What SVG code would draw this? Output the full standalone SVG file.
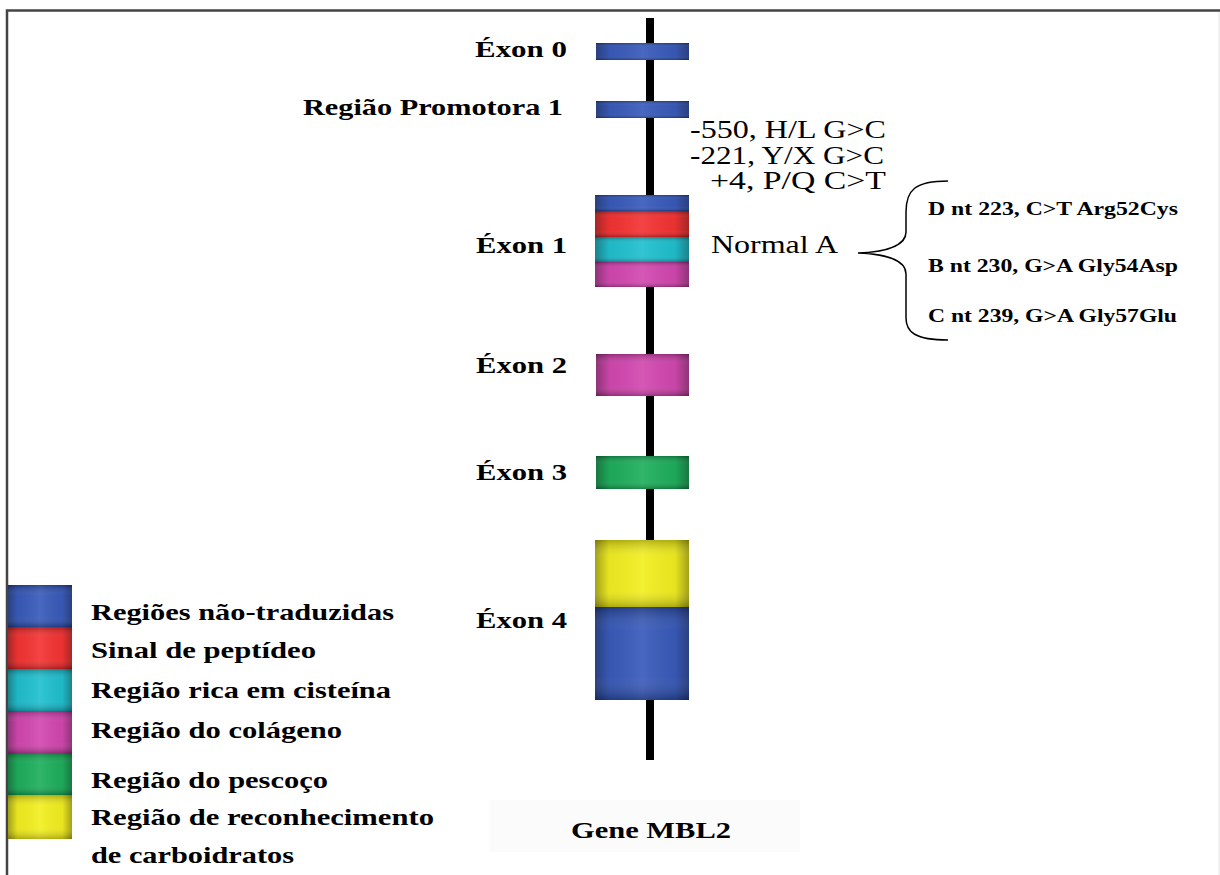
<svg xmlns="http://www.w3.org/2000/svg" width="1220" height="875" viewBox="0 0 1220 875">
<defs>
<linearGradient id="eh" x1="0" y1="0" x2="1" y2="0">
<stop offset="0" stop-color="#000" stop-opacity="0.35"/>
<stop offset="0.15" stop-color="#000" stop-opacity="0.05"/>
<stop offset="0.5" stop-color="#fff" stop-opacity="0.08"/>
<stop offset="0.85" stop-color="#000" stop-opacity="0.05"/>
<stop offset="1" stop-color="#000" stop-opacity="0.35"/>
</linearGradient>
<linearGradient id="ev" x1="0" y1="0" x2="0" y2="1">
<stop offset="0" stop-color="#000" stop-opacity="0.25"/>
<stop offset="0.25" stop-color="#fff" stop-opacity="0.06"/>
<stop offset="0.75" stop-color="#fff" stop-opacity="0.06"/>
<stop offset="1" stop-color="#000" stop-opacity="0.25"/>
</linearGradient>
<g id="shade"><rect width="1" height="1" fill="url(#eh)"/><rect width="1" height="1" fill="url(#ev)"/></g>
</defs>
<style>
.lbl{font-family:"Liberation Serif",serif;font-weight:bold;font-size:23px;fill:#000}
.mut{font-family:"Liberation Serif",serif;font-size:25px;fill:#000}
.sub{font-family:"Liberation Serif",serif;font-weight:bold;font-size:19px;fill:#000}
.leg{font-family:"Liberation Serif",serif;font-weight:bold;font-size:24px;fill:#000}
.blue{fill:#2c50b6}.red{fill:#f42626}.cyan{fill:#12bccc}.mag{fill:#d03cab}.green{fill:#10aa52}.yel{fill:#f2ee12}
</style>
<rect width="1220" height="875" fill="#fff"/>
<path d="M7,875 V10.5 H1220" fill="none" stroke="#444" stroke-width="2.5"/>
<line x1="1219" y1="12" x2="1219" y2="875" stroke="#e4e4e4" stroke-width="1"/>
<rect x="490" y="800" width="310" height="52" fill="#fbfbfb"/>

<g id="chromosome"><rect x="646" y="18" width="8" height="742" fill="#000"/></g>

<g id="exon0">
<rect class="blue" x="596" y="43" width="93" height="17"/><use href="#shade" transform="translate(596,43) scale(93,17)"/>
<text class="lbl" x="567" y="57" text-anchor="end" textLength="92" lengthAdjust="spacingAndGlyphs">Éxon 0</text>
</g>
<g id="promoter">
<rect class="blue" x="596" y="101" width="93" height="17"/><use href="#shade" transform="translate(596,101) scale(93,17)"/>
<text class="lbl" x="563" y="115" text-anchor="end" textLength="260" lengthAdjust="spacingAndGlyphs">Região Promotora 1</text>
<text class="mut" x="690" y="138" textLength="196" lengthAdjust="spacingAndGlyphs">-550, H/L  G&gt;C</text>
<text class="mut" x="690" y="164" textLength="194" lengthAdjust="spacingAndGlyphs">-221, Y/X  G&gt;C</text>
<text class="mut" x="710" y="189" textLength="176" lengthAdjust="spacingAndGlyphs">+4, P/Q  C&gt;T</text>
</g>
<g id="exon1">
<rect class="blue" x="595" y="195" width="94" height="16"/><use href="#shade" transform="translate(595,195) scale(94,16)"/>
<rect class="red" x="595" y="211" width="94" height="26"/><use href="#shade" transform="translate(595,211) scale(94,26)"/>
<rect class="cyan" x="595" y="237" width="94" height="25"/><use href="#shade" transform="translate(595,237) scale(94,25)"/>
<rect class="mag" x="595" y="262" width="94" height="25"/><use href="#shade" transform="translate(595,262) scale(94,25)"/>
<text class="lbl" x="567" y="253" text-anchor="end" textLength="91" lengthAdjust="spacingAndGlyphs">Éxon 1</text>
<text class="mut" x="711" y="253" font-size="24" textLength="127" lengthAdjust="spacingAndGlyphs">Normal A</text>
</g>
<g id="connectors">
<path d="M948,181 C915,181 906,190 906,212 V232 C906,246 885,252 858,253 C885,254 906,260 906,274 V318 C906,332 915,340 948,340" fill="none" stroke="#000" stroke-width="1.5"/>
</g>
<g id="variants">
<text class="sub" x="928" y="215" textLength="250" lengthAdjust="spacingAndGlyphs">D nt 223, C&gt;T Arg52Cys</text>
<text class="sub" x="928" y="272" textLength="250" lengthAdjust="spacingAndGlyphs">B nt 230, G&gt;A Gly54Asp</text>
<text class="sub" x="928" y="322" textLength="249" lengthAdjust="spacingAndGlyphs">C nt 239, G&gt;A Gly57Glu</text>
</g>
<g id="exon2">
<rect class="mag" x="596" y="354" width="93" height="42"/><use href="#shade" transform="translate(596,354) scale(93,42)"/>
<text class="lbl" x="567" y="373" text-anchor="end" textLength="91" lengthAdjust="spacingAndGlyphs">Éxon 2</text>
</g>
<g id="exon3">
<rect class="green" x="596" y="456" width="93" height="33"/><use href="#shade" transform="translate(596,456) scale(93,33)"/>
<text class="lbl" x="567" y="480" text-anchor="end" textLength="91" lengthAdjust="spacingAndGlyphs">Éxon 3</text>
</g>
<g id="exon4">
<rect class="yel" x="595" y="540" width="94" height="67"/><use href="#shade" transform="translate(595,540) scale(94,67)"/>
<rect class="blue" x="595" y="607" width="94" height="93"/><use href="#shade" transform="translate(595,607) scale(94,93)"/>
<text class="lbl" x="567" y="628" text-anchor="end" textLength="91" lengthAdjust="spacingAndGlyphs">Éxon 4</text>
</g>
<g id="legend">
<rect class="blue" x="8" y="585" width="64" height="42"/><use href="#shade" transform="translate(8,585) scale(64,42)"/>
<rect class="red" x="8" y="627" width="64" height="42"/><use href="#shade" transform="translate(8,627) scale(64,42)"/>
<rect class="cyan" x="8" y="669" width="64" height="42"/><use href="#shade" transform="translate(8,669) scale(64,42)"/>
<rect class="mag" x="8" y="711" width="64" height="42"/><use href="#shade" transform="translate(8,711) scale(64,42)"/>
<rect class="green" x="8" y="753" width="64" height="42"/><use href="#shade" transform="translate(8,753) scale(64,42)"/>
<rect class="yel" x="8" y="795" width="64" height="44"/><use href="#shade" transform="translate(8,795) scale(64,44)"/>
<text class="leg" x="91" y="620" textLength="303" lengthAdjust="spacingAndGlyphs">Regiões não-traduzidas</text>
<text class="leg" x="91" y="658" textLength="225" lengthAdjust="spacingAndGlyphs">Sinal de peptídeo</text>
<text class="leg" x="91" y="698" textLength="300" lengthAdjust="spacingAndGlyphs">Região rica em cisteína</text>
<text class="leg" x="91" y="738" textLength="251" lengthAdjust="spacingAndGlyphs">Região do colágeno</text>
<text class="leg" x="91" y="788" textLength="237" lengthAdjust="spacingAndGlyphs">Região do pescoço</text>
<text class="leg" x="91" y="825" textLength="343" lengthAdjust="spacingAndGlyphs">Região de reconhecimento</text>
<text class="leg" x="91" y="863" textLength="203" lengthAdjust="spacingAndGlyphs">de carboidratos</text>
</g>
<g id="title">
<text class="lbl" x="571" y="838" textLength="160" lengthAdjust="spacingAndGlyphs">Gene MBL2</text>
</g>
</svg>
